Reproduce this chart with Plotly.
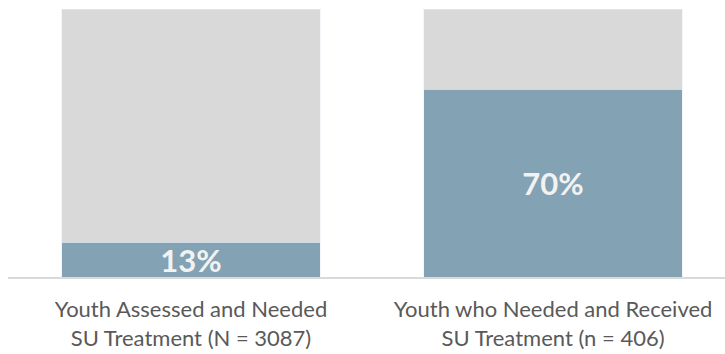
import plotly.graph_objects as go

categories = [
    "Youth Assessed and Needed<br>SU Treatment (N = 3087)",
    "Youth who Needed and Received<br>SU Treatment (n = 406)",
]
pct_yes = [13, 70]
pct_rest = [100 - v for v in pct_yes]

blue = "#83A2B3"
gray = "#D9D9D9"

fig = go.Figure()
fig.add_trace(go.Bar(
    x=categories, y=pct_yes, marker_color=blue, width=0.713,
    text=[f"{v}%" for v in pct_yes], textposition="inside",
    insidetextanchor="middle", constraintext="none",
    textfont=dict(family="Lato", size=31, color="#F2F2F2", weight="bold"),
    hoverinfo="skip",
))
fig.add_trace(go.Bar(
    x=categories, y=pct_rest, marker_color=gray, width=0.713,
    hoverinfo="skip",
))

fig.update_layout(
    barmode="stack",
    width=725, height=354,
    margin=dict(l=8, r=0, t=9, b=77),
    paper_bgcolor="white", plot_bgcolor="white",
    showlegend=False,
    font=dict(family="Lato", color="#595959"),
    xaxis=dict(
        range=[-0.5055, 1.475], showline=True, linecolor=gray, linewidth=2,
        ticks="", tickfont=dict(size=22, family="Lato", color="#595959"),
        ticklabelstandoff=12,
    ),
    yaxis=dict(range=[0, 100], visible=False),
)

fig.write_html("out.html")
